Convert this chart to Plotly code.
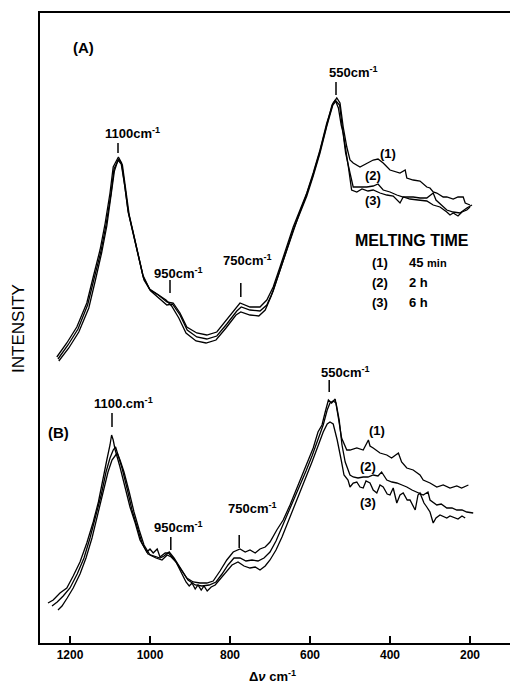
import plotly.graph_objects as go

# ---- data (wavenumber in cm-1, intensity in arbitrary units) ----
A1_wn = [1233,1208,1183,1158,1142,1125,1112,1100,1092,1079,1071,1062,1054,1042,1029,1017,1000,979,958,942,925,908,883,858,833,808,783,775,750,725,708,692,675,658,642,625,608,592,575,558,542,533,525,517,508,500,492,475,458,442,430,417,400,383,375,362,358,342,325,308,300,292,283,267,258,242,230,217,212,200]
A1_int = [286,300,316,340,366,393,420,450,476,486,480,456,430,410,386,366,353,348,341,340,330,316,310,308,311,323,336,340,336,336,343,356,376,396,416,433,450,470,493,520,540,545,540,516,496,483,480,476,480,483,484,480,473,471,470,473,465,463,462,456,455,451,450,446,446,444,446,446,440,438]

A2_wn = [1230,1205,1180,1156,1140,1123,1110,1098,1090,1078,1069,1060,1052,1040,1027,1015,998,978,958,944,925,907,883,858,833,808,783,772,750,725,708,692,675,658,642,625,608,592,575,558,543,535,526,519,511,500,492,475,458,442,430,417,400,383,367,342,325,308,292,285,275,258,242,225,208,195]
A2_int = [284,298,314,338,364,391,418,448,474,484,478,454,428,407,383,363,352,345,338,339,328,313,306,304,307,319,332,336,333,332,338,352,372,393,413,430,447,467,490,517,538,542,538,515,490,470,456,456,456,457,459,453,451,448,446,446,445,445,450,443,439,433,431,430,435,438]

A3_wn = [1228,1203,1178,1153,1137,1121,1108,1097,1089,1080,1072,1063,1055,1043,1030,1018,1001,981,960,946,928,910,885,860,835,810,785,773,750,728,712,697,680,662,645,628,611,594,577,560,545,537,529,522,517,504,496,483,470,455,442,425,408,392,375,367,350,330,308,292,275,258,250,242,230,220,208,200]
A3_int = [282,295,311,335,362,390,417,447,472,483,479,457,432,411,388,368,354,349,343,337,325,310,302,300,303,315,328,331,328,327,333,347,367,390,410,428,446,466,489,516,538,543,535,518,510,476,453,451,454,452,453,450,448,447,440,446,444,443,442,438,436,431,428,430,427,431,433,436]

B1_wn = [1255,1242,1225,1208,1192,1175,1158,1142,1129,1117,1108,1100,1096,1092,1087,1075,1062,1050,1037,1025,1008,1000,992,982,975,962,954,942,925,908,892,875,858,842,825,808,792,775,762,750,737,725,712,700,683,667,650,635,625,608,592,580,570,562,554,546,537,529,521,508,500,483,467,454,450,442,425,408,396,379,371,358,342,325,317,300,283,267,250,233,221,204]
B1_int = [40,43,50,55,67,81,100,121,141,163,183,198,208,203,193,176,156,136,120,103,91,94,90,94,86,90,90,85,75,65,61,60,60,62,72,83,91,94,91,93,90,94,96,101,113,123,138,153,163,179,195,211,218,231,243,240,244,225,205,193,193,195,193,203,197,195,190,188,185,190,181,175,173,168,163,160,156,158,155,157,155,158]

B2_wn = [1245,1232,1217,1200,1182,1165,1150,1135,1122,1110,1100,1092,1086,1080,1070,1057,1045,1032,1020,1005,990,975,965,952,940,922,905,887,870,852,835,820,805,790,775,760,745,730,715,700,685,670,655,640,625,610,595,580,567,557,550,542,535,527,520,512,500,492,480,467,455,442,430,421,408,395,383,370,358,345,333,317,305,300,283,272,258,245,233,220,208,192]
B2_int = [37,41,47,55,69,85,105,127,148,171,185,193,196,188,175,154,133,116,100,89,87,85,87,91,85,73,63,58,57,58,61,69,78,85,85,82,83,82,85,91,102,116,130,143,157,172,187,203,218,233,240,242,240,223,198,181,168,166,165,166,166,168,167,171,163,161,160,158,156,153,151,148,151,143,138,139,135,135,133,133,131,130]

B3_wn = [1230,1220,1207,1192,1175,1160,1145,1130,1117,1105,1095,1087,1082,1075,1065,1052,1040,1027,1015,1000,985,970,957,947,935,920,910,902,895,887,880,872,865,857,847,837,825,810,795,780,765,750,737,725,712,700,685,670,655,640,625,610,595,580,567,557,550,542,532,522,515,505,500,492,483,475,467,460,450,442,433,425,417,407,400,392,383,375,367,357,350,337,330,325,315,308,300,292,285,275,258,250,242,230,220,212]
B3_int = [33,37,45,55,69,85,105,129,151,171,183,188,190,183,171,151,131,113,98,88,85,83,88,86,81,69,61,57,60,54,58,53,57,52,56,58,64,71,78,81,77,75,76,73,77,83,93,106,121,135,149,165,181,197,211,219,221,219,203,183,168,163,156,160,161,156,155,162,160,153,150,158,156,149,148,155,140,148,150,143,143,133,148,150,140,136,131,120,125,128,125,127,126,124,127,125]

x_ticks = [1200, 1000, 800, 600, 400, 200]

# peak labels: text, label x, label y, marker x, marker y0, marker y1
peak_text = ["1100cm<sup>-1</sup>", "550cm<sup>-1</sup>", "950cm<sup>-1</sup>", "750cm<sup>-1</sup>",
             "1100.cm<sup>-1</sup>", "550cm<sup>-1</sup>", "950cm<sup>-1</sup>", "750cm<sup>-1</sup>"]
peak_lx = [1045, 492, 930, 757, 1067, 512, 930, 745]
peak_ly = [510, 571, 370, 383, 240, 271, 116, 135]
peak_mx = [1080, 535, 950, 773, 1095, 552, 948, 777]
peak_m0 = [490, 548, 350, 346, 216, 251, 93, 95]
peak_m1 = [500, 561, 363, 360, 230, 263, 106, 108]

curve_text = ["(1)", "(2)", "(3)", "(1)", "(2)", "(3)"]
curve_lx = [405, 442, 442, 432, 455, 455]
curve_ly = [490, 468, 443, 213, 177, 141]

FONT = "Liberation Sans, Arial"

fig = go.Figure()
for wn, it in [(A1_wn, A1_int), (A2_wn, A2_int), (A3_wn, A3_int),
               (B1_wn, B1_int), (B2_wn, B2_int), (B3_wn, B3_int)]:
    fig.add_trace(go.Scatter(x=wn, y=it, mode="lines",
                             line=dict(color="black", width=1.3),
                             showlegend=False, hoverinfo="skip"))

lab_font = dict(family=FONT, size=13, color="black")
for t, lx, ly, mx, m0, m1 in zip(peak_text, peak_lx, peak_ly, peak_mx, peak_m0, peak_m1):
    fig.add_annotation(x=lx, y=ly, xref="x", yref="y", text="<b>" + t + "</b>",
                       showarrow=False, font=lab_font, xanchor="center", yanchor="middle")
    fig.add_shape(type="line", x0=mx, x1=mx, y0=m0, y1=m1, xref="x", yref="y",
                  line=dict(color="black", width=1.5))

for t, lx, ly in zip(curve_text, curve_lx, curve_ly):
    fig.add_annotation(x=lx, y=ly, xref="x", yref="y", text="<b>" + t + "</b>",
                       showarrow=False, font=lab_font, xanchor="center", yanchor="middle")

fig.add_annotation(x=1167, y=596, xref="x", yref="y", text="<b>(A)</b>",
                   showarrow=False, xanchor="center", yanchor="middle",
                   font=dict(family=FONT, size=15, color="black"))
fig.add_annotation(x=1230, y=211, xref="x", yref="y", text="<b>(B)</b>",
                   showarrow=False, xanchor="center", yanchor="middle",
                   font=dict(family=FONT, size=15, color="black"))

# legend block
fig.add_annotation(x=345, y=403, xref="x", yref="y", text="<b>MELTING TIME</b>",
                   showarrow=False, xanchor="center", yanchor="middle",
                   font=dict(family=FONT, size=16, color="black"))
leg_num = ["(1)", "(2)", "(3)"]
leg_txt = ["45 <span style='font-size:11px'>min</span>", "2 h", "6 h"]
leg_y = [381, 361, 341]
for n, t, y in zip(leg_num, leg_txt, leg_y):
    fig.add_annotation(x=425, y=y, xref="x", yref="y", text="<b>" + n + "</b>",
                       showarrow=False, xanchor="center", yanchor="middle", font=lab_font)
    fig.add_annotation(x=357, y=y, xref="x", yref="y", text="<b>" + t + "</b>",
                       showarrow=False, xanchor="left", yanchor="middle", font=lab_font)

fig.add_annotation(x=0.494, y=-0.052, xref="paper", yref="paper",
                   text="<b>Δ<i>ν</i> cm<sup>-1</sup></b>", showarrow=False,
                   xanchor="center", yanchor="middle",
                   font=dict(family=FONT, size=13, color="black"))
fig.add_annotation(x=-0.047, y=0.5, xref="paper", yref="paper", text="INTENSITY",
                   textangle=-90, showarrow=False, xanchor="center", yanchor="middle",
                   font=dict(family=FONT, size=17, color="black"))

fig.update_xaxes(range=[1275, 100], tickvals=x_ticks,
                 ticktext=["<b>" + str(v) + "</b>" for v in x_ticks],
                 ticks="inside", ticklen=7, tickwidth=1.5, tickcolor="black",
                 showline=True, linecolor="black", linewidth=1.5, mirror=True,
                 showgrid=False, zeroline=False,
                 tickfont=dict(family=FONT, size=12, color="black"))
fig.update_yaxes(range=[0, 630], showticklabels=False, ticks="",
                 showline=True, linecolor="black", linewidth=1.5,
                 showgrid=False, zeroline=False)
fig.update_layout(width=510, height=687, margin=dict(l=40, r=0, t=13, b=44),
                  plot_bgcolor="white", paper_bgcolor="white")
fig.write_html("out.html")
